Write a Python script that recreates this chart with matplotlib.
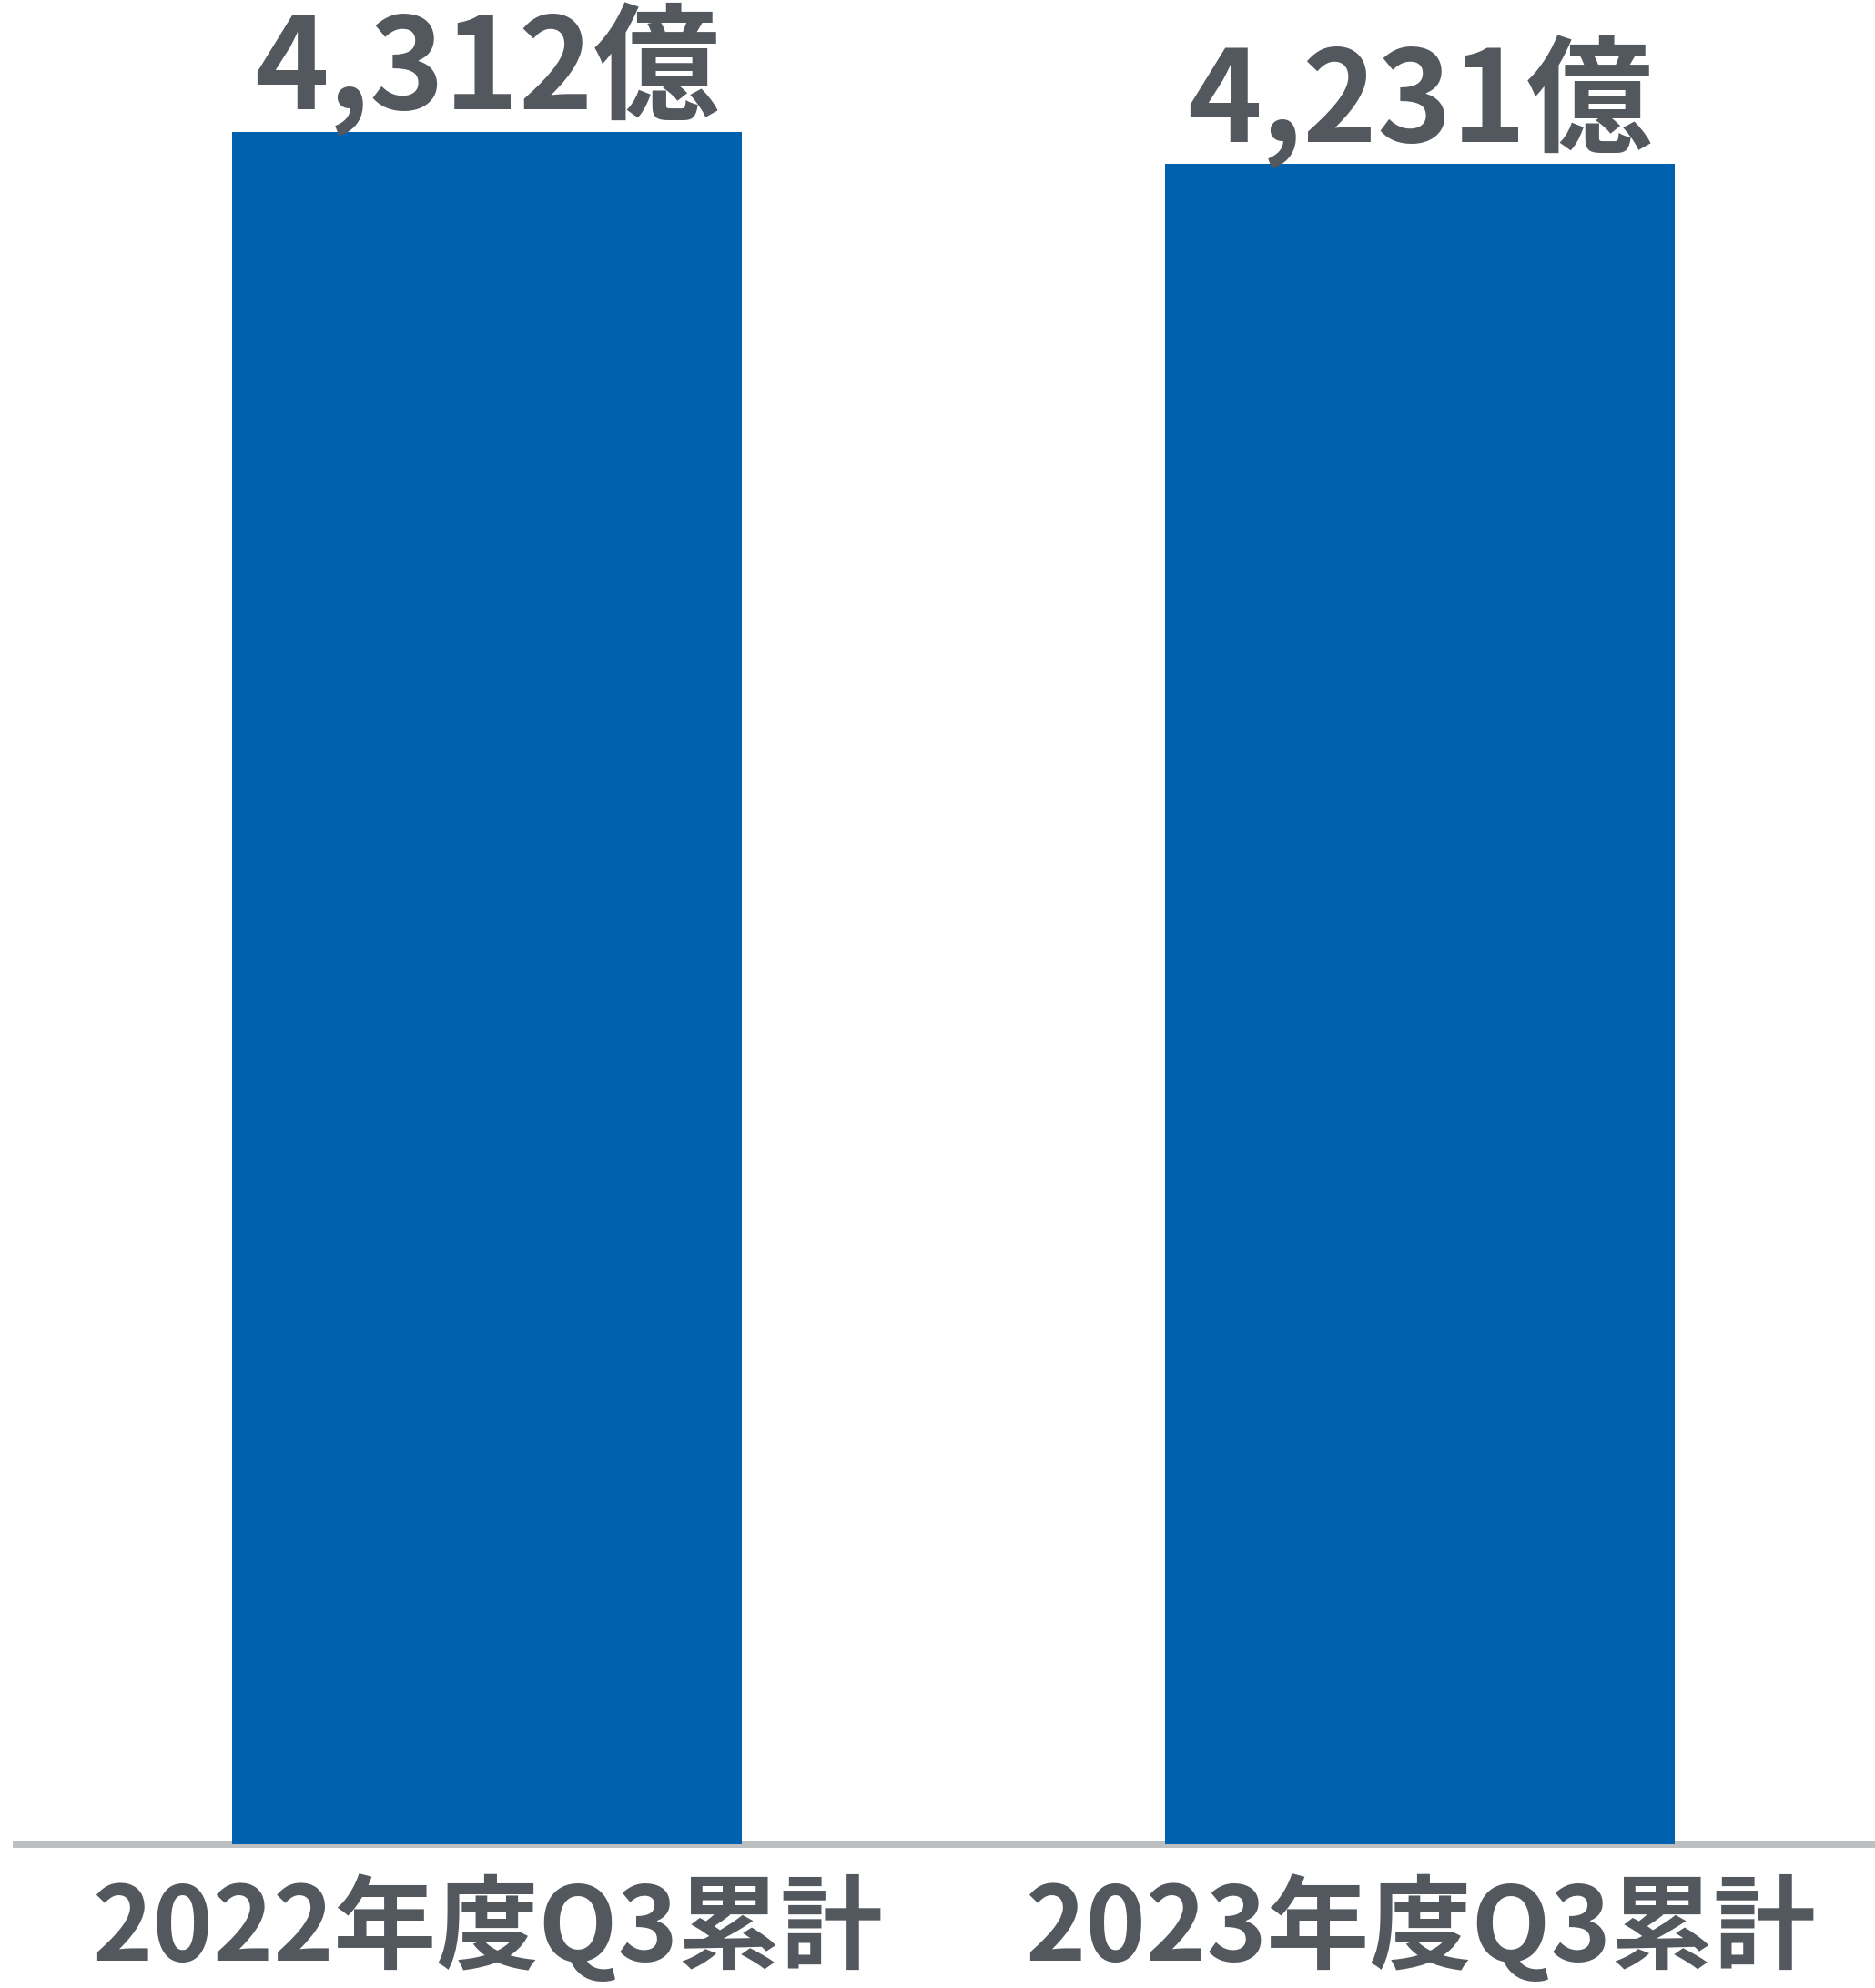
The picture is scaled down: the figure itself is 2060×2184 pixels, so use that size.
import matplotlib
matplotlib.use("Agg")
import matplotlib.pyplot as plt

plt.rcParams['font.family'] = ['Noto Sans CJK JP', 'DejaVu Sans']

categories = ["2022年度Q3累計", "2023年度Q3累計"]
values = [4312, 4231]
value_labels = ["4,312億", "4,231億"]

BAR_COLOR = "#0062AF"
TEXT_COLOR = "#53585F"
AXIS_COLOR = "#BDBFC1"

W, H, DPI = 2060, 2184, 100
fig = plt.figure(figsize=(W / DPI, H / DPI), dpi=DPI)
base_px = 2026
ax = fig.add_axes([0, (H - base_px) / H, 1, base_px / H])

px_per_cat = 1025.0
first_center = 535.0
x = list(range(len(categories)))
ax.bar(x, values, width=560 / px_per_cat, color=BAR_COLOR, zorder=3)
ax.set_xlim(-first_center / px_per_cat, -first_center / px_per_cat + W / px_per_cat)
ymax = values[0] * base_px / 1881.0
ax.set_ylim(0, ymax)

ax.axhline(0, xmin=18 / W, xmax=1, color=AXIS_COLOR, linewidth=8 * 72 / DPI,
           zorder=2, clip_on=False)

for xi, v, lab in zip(x, values, value_labels):
    ax.annotate(lab, xy=(xi, v), xytext=(0, 24 * 72 / DPI), textcoords='offset points',
                ha='center', va='baseline', fontsize=100, fontweight='bold',
                color=TEXT_COLOR, annotation_clip=False)

for xi, cat in zip(x, categories):
    ax.annotate(cat, xy=(xi, 0), xycoords=('data', 'axes fraction'),
                xytext=(0, -128 * 72 / DPI), textcoords='offset points',
                ha='center', va='baseline', fontsize=81, fontweight='bold',
                color=TEXT_COLOR, annotation_clip=False)

ax.axis('off')
fig.savefig("out.png", dpi=DPI)
